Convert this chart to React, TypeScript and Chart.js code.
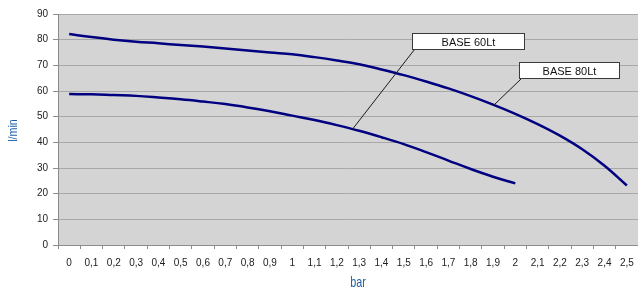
import React, { useEffect, useRef } from "react";
import { Chart, registerables } from "chart.js";

Chart.register(...registerables);

const categories = ["0", "0,1", "0,2", "0,3", "0,4", "0,5", "0,6", "0,7", "0,8", "0,9", "1", "1,1", "1,2", "1,3", "1,4", "1,5", "1,6", "1,7", "1,8", "1,9", "2", "2,1", "2,2", "2,3", "2,4", "2,5"];

const base80 = [82.2, 81.0, 80.0, 79.2, 78.6, 77.9, 77.3, 76.6, 75.8, 75.0, 74.3, 73.2, 71.9, 70.4, 68.4, 66.2, 63.7, 61.0, 58.0, 54.7, 51.1, 47.1, 42.6, 37.3, 30.9, 23.2];

const base60 = [58.8, 58.7, 58.4, 58.1, 57.5, 56.8, 55.9, 54.9, 53.6, 52.1, 50.4, 48.7, 46.7, 44.5, 42.0, 39.3, 36.2, 32.9, 29.6, 26.6, 24.0, null, null, null, null, null];

const yTicks = { min: 0, max: 90, step: 10 };

const xTitle = "bar";
const yTitle = "l/min";

// callouts: label text, box centre (category index, value), arrow tip (category index, value)
const calloutTexts = ["BASE 60Lt", "BASE 80Lt"];
const calloutBoxX = [17.9, 22.4];
const calloutBoxY = [79.5, 68.3];
const calloutTipX = [12.7, 19.05];
const calloutTipY = [45.1, 54.6];
const calloutBoxW = [112, 100];

const FONT = "'Liberation Sans', Arial, sans-serif";
const TITLE_COLOR = "#1f5fa8";

const plotBg = {
  id: "plotBg",
  beforeDraw(chart: any) {
    const { ctx, chartArea } = chart;
    ctx.save();
    ctx.fillStyle = "#d4d4d4";
    ctx.fillRect(chartArea.left, chartArea.top, chartArea.right - chartArea.left, chartArea.bottom - chartArea.top);
    ctx.restore();
  },
};

const axisTitles = {
  id: "axisTitles",
  afterDraw(chart: any) {
    const { ctx, chartArea } = chart;
    ctx.save();
    ctx.fillStyle = TITLE_COLOR;
    ctx.font = `15px ${FONT}`;
    ctx.textAlign = "center";
    ctx.textBaseline = "alphabetic";
    ctx.save();
    ctx.translate((chartArea.left + chartArea.right) / 2 + 10, chartArea.bottom + 42);
    ctx.scale(0.72, 1);
    ctx.fillText(xTitle, 0, 0);
    ctx.restore();
    ctx.font = `13px ${FONT}`;
    ctx.save();
    ctx.translate(17, (chartArea.top + chartArea.bottom) / 2 + 1);
    ctx.rotate(-Math.PI / 2);
    ctx.scale(0.82, 1);
    ctx.fillText(yTitle, 0, 0);
    ctx.restore();
    ctx.restore();
  },
};

const callouts = {
  id: "callouts",
  afterDatasetsDraw(chart: any) {
    const { ctx, scales } = chart;
    const xs = scales.x;
    const ys = scales.y;
    ctx.save();
    for (let i = 0; i < calloutTexts.length; i++) {
      const cx = xs.getPixelForValue(calloutBoxX[i]);
      const cy = ys.getPixelForValue(calloutBoxY[i]);
      const w = calloutBoxW[i];
      const h = 16;
      const left = Math.round(cx - w / 2) + 0.5;
      const top = Math.round(cy - h / 2) + 0.5;
      const tx = xs.getPixelForValue(calloutTipX[i]);
      const ty = ys.getPixelForValue(calloutTipY[i]);
      ctx.strokeStyle = "#1a1a1a";
      ctx.lineWidth = 1;
      ctx.beginPath();
      ctx.moveTo(left + 2, top + h);
      ctx.lineTo(tx, ty);
      ctx.stroke();
      ctx.fillStyle = "#ffffff";
      ctx.fillRect(left, top, w, h);
      ctx.strokeStyle = "#3a3a3a";
      ctx.strokeRect(left, top, w, h);
      ctx.fillStyle = "#111111";
      ctx.font = `11px ${FONT}`;
      ctx.textAlign = "center";
      ctx.textBaseline = "middle";
      ctx.fillText(calloutTexts[i], left + w / 2, top + h / 2 + 1);
    }
    ctx.restore();
  },
};

export default function App() {
  const ref = useRef<HTMLCanvasElement>(null);
  useEffect(() => {
    if (!ref.current) return;
    const chart = new Chart(ref.current, {
      type: "line",
      data: {
        labels: categories,
        datasets: [
          {
            label: "BASE 80Lt",
            data: base80,
            borderColor: "#000080",
            borderWidth: 2.5,
            pointRadius: 0,
            tension: 0.4,
            fill: false,
          },
          {
            label: "BASE 60Lt",
            data: base60,
            borderColor: "#000080",
            borderWidth: 2.5,
            pointRadius: 0,
            tension: 0.4,
            fill: false,
            spanGaps: false,
          },
        ],
      },
      options: {
        animation: false,
        responsive: false,
        maintainAspectRatio: false,
        layout: { padding: { top: 14, right: 0, left: 0, bottom: 0 } },
        plugins: { legend: { display: false }, tooltip: { enabled: false } },
        scales: {
          x: {
            type: "category",
            offset: true,
            grid: {
              offset: true,
              drawOnChartArea: false,
              drawTicks: true,
              tickLength: 4,
              color: "#8c8c8c",
            },
            border: { color: "#8c8c8c", width: 1 },
            ticks: {
              color: "#222222",
              font: { family: FONT, size: 10 },
              padding: 8,
              maxRotation: 0,
              autoSkip: false,
            },
            afterFit: (s: any) => {
              s.height = 43;
              s.paddingLeft = 0;
              s.paddingRight = 0;
            },
          },
          y: {
            min: yTicks.min,
            max: yTicks.max,
            ticks: {
              stepSize: yTicks.step,
              color: "#222222",
              font: { family: FONT, size: 10 },
              padding: 5,
            },
            grid: {
              color: "#a8a8a8",
              tickLength: 5,
              drawTicks: true,
              tickColor: "#8c8c8c",
            },
            border: { color: "#8c8c8c", width: 1 },
            afterFit: (s: any) => {
              s.width = 58;
            },
          },
        },
      },
      plugins: [plotBg, callouts, axisTitles],
    } as any);
    return () => chart.destroy();
  }, []);
  return (
    <div style={{ position: "absolute", left: 0, top: 0, width: 638, height: 288, background: "#fff" }}>
      <canvas ref={ref} width={638} height={288} style={{ display: "block" }} />
    </div>
  );
}
